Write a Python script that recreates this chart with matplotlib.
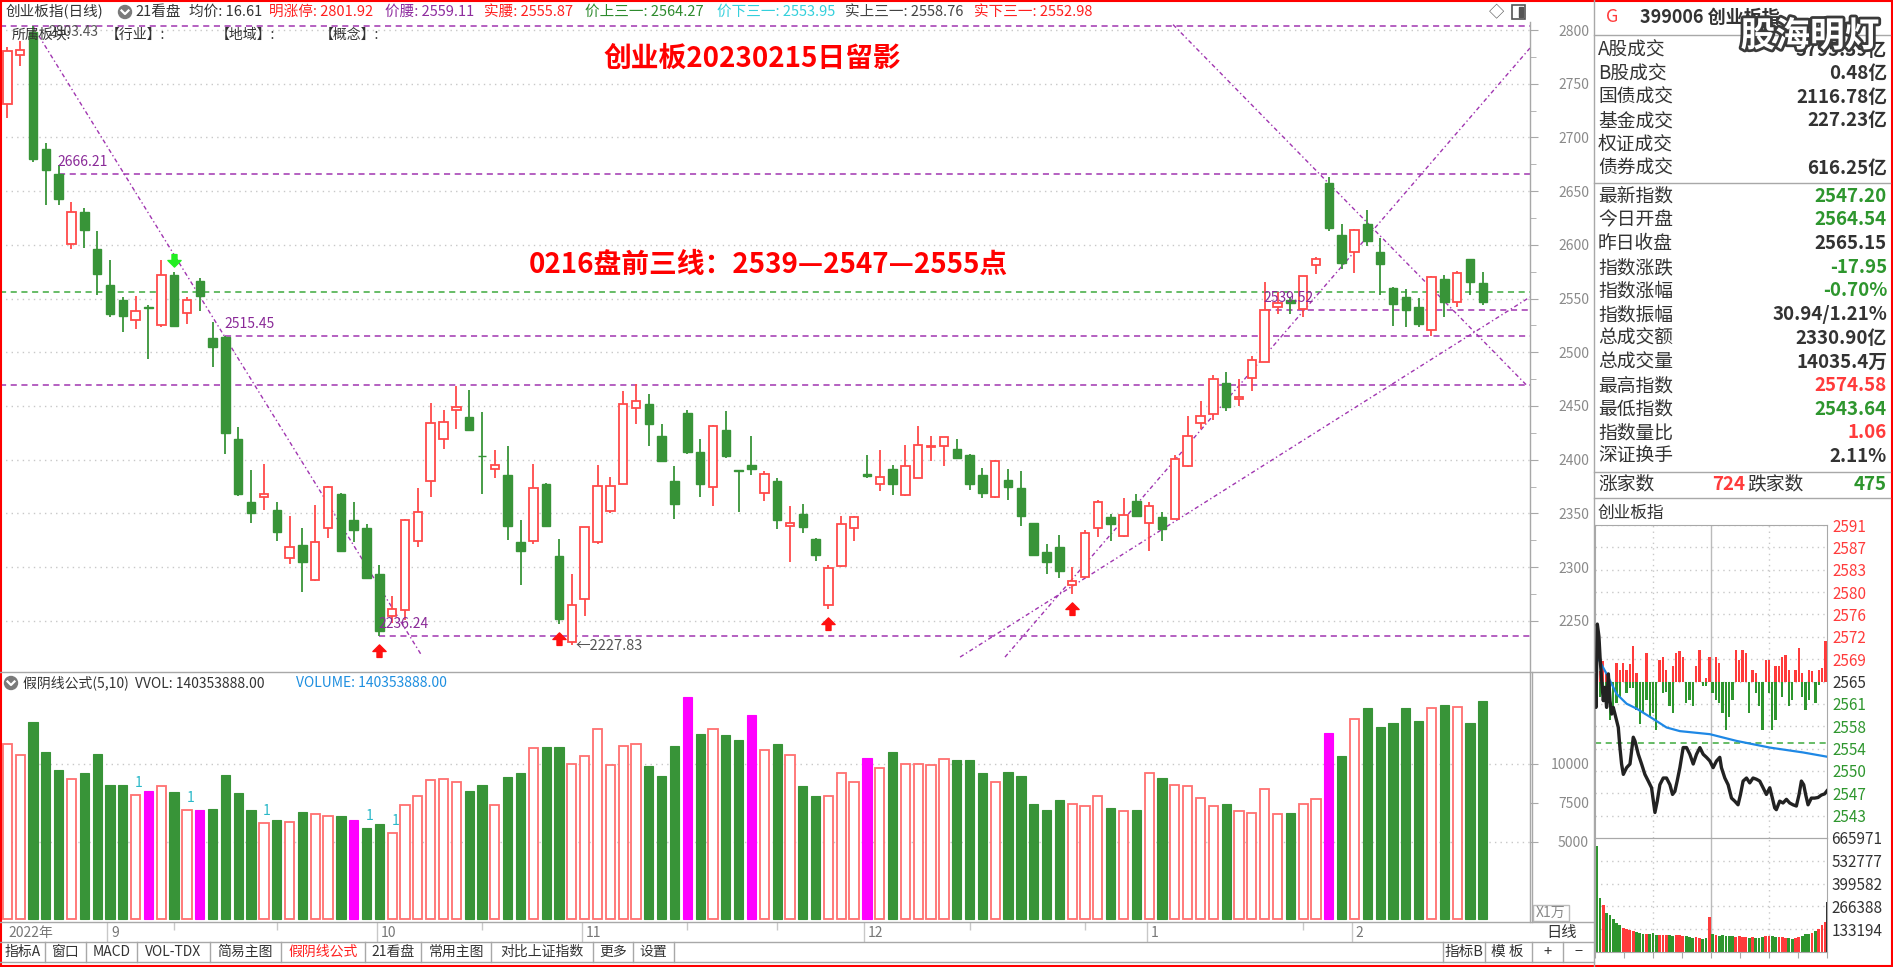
import numpy as np
import matplotlib.pyplot as plt
from matplotlib.patches import Rectangle, Circle
from matplotlib.path import Path
import matplotlib.patheffects as pe

plt.rcParams['font.family'] = ['Noto Sans CJK SC', 'DejaVu Sans']
plt.rcParams['axes.unicode_minus'] = False

# ---------------- daily K-line data (2022-08 .. 2023-02-15) ----------------
opens = [2731.4, 2776.3, 2798.0, 2689.3, 2666.2, 2600.7, 2630.4, 2596.3, 2562.3, 2548.2,
         2529.9, 2542.2, 2525.6, 2571.5, 2536.4, 2566.6, 2513.7, 2514.5, 2419.1, 2360.2,
         2365.6, 2353.2, 2308.8, 2320.7, 2288.3, 2335.9, 2367.8, 2344.0, 2336.4, 2293.7,
         2254.3, 2260.2, 2324.5, 2380.2, 2419.6, 2446.1, 2439.6, 2403.8, 2391.0, 2386.1,
         2323.4, 2324.5, 2377.5, 2309.9, 2229.9, 2270.5, 2323.4, 2352.1, 2377.5, 2447.7,
         2452.0, 2422.3, 2380.2, 2443.4, 2407.2, 2374.8, 2427.7, 2389.6, 2394.8, 2369.4,
         2380.2, 2338.6, 2349.4, 2326.1, 2265.1, 2300.7, 2335.9, 2386.7, 2377.5, 2391.0,
         2366.7, 2382.9, 2411.5, 2412.6, 2409.9, 2404.5, 2385.6, 2365.1, 2381.3, 2373.2,
         2340.7, 2313.7, 2319.1, 2282.9, 2291.0, 2335.9, 2346.7, 2328.8, 2361.3, 2340.7,
         2346.7, 2345.1, 2393.7, 2434.2, 2442.3, 2471.0, 2456.4, 2476.4, 2491.0, 2542.3,
         2548.8, 2540.7, 2581.2, 2657.4, 2608.8, 2593.6, 2619.6, 2593.6, 2560.1, 2551.5,
         2542.3, 2520.7, 2568.2, 2546.6, 2586.6, 2564.54]
highs = [2783.9, 2789.3, 2803.43, 2695.2, 2674.7, 2639.6, 2634.2, 2612.5, 2585.5, 2551.5,
         2552.6, 2543.9, 2585.5, 2574.7, 2551.5, 2569.3, 2527.7, 2515.45, 2430.4, 2389.9,
         2396.4, 2360.2, 2347.8, 2335.9, 2357.5, 2375.5, 2368.5, 2360.2, 2339.7, 2301.8,
         2273.2, 2345.0, 2373.2, 2453.1, 2446.6, 2468.3, 2465.0, 2443.9, 2408.8, 2412.6,
         2344.0, 2396.4, 2378.2, 2326.1, 2293.7, 2337.5, 2394.8, 2384.0, 2463.9, 2470.4,
         2461.2, 2433.1, 2393.7, 2446.6, 2419.6, 2432.0, 2445.0, 2390.2, 2421.8, 2389.4,
         2382.9, 2357.0, 2358.6, 2327.2, 2301.8, 2347.8, 2347.8, 2404.5, 2408.8, 2394.8,
         2413.7, 2431.5, 2421.8, 2421.0, 2419.1, 2405.0, 2392.6, 2399.5, 2391.0, 2389.4,
         2341.0, 2321.8, 2329.9, 2300.2, 2334.3, 2362.4, 2349.4, 2364.0, 2368.3, 2360.2,
         2351.5, 2404.5, 2440.7, 2454.8, 2479.1, 2481.2, 2474.8, 2496.4, 2565.5, 2555.8,
         2551.5, 2571.0, 2588.2, 2662.8, 2619.6, 2614.5, 2632.6, 2606.1, 2561.2, 2558.5,
         2550.4, 2571.0, 2572.0, 2575.8, 2587.0, 2574.58]
lows = [2717.9, 2766.6, 2676.9, 2636.9, 2636.9, 2596.3, 2597.4, 2553.1, 2533.1, 2519.1,
        2521.8, 2493.7, 2523.4, 2523.4, 2526.1, 2538.5, 2486.6, 2405.6, 2366.5, 2340.7,
        2353.2, 2324.5, 2302.9, 2276.4, 2287.2, 2327.2, 2314.5, 2323.4, 2288.5, 2236.24,
        2247.8, 2250.5, 2319.1, 2365.6, 2409.9, 2428.8, 2426.5, 2367.8, 2382.9, 2325.1,
        2282.9, 2321.8, 2338.0, 2246.7, 2227.83, 2254.3, 2321.8, 2350.5, 2377.0, 2433.1,
        2412.6, 2398.5, 2345.1, 2405.6, 2365.1, 2357.0, 2401.8, 2351.5, 2385.6, 2361.3,
        2335.3, 2304.5, 2331.6, 2306.1, 2261.3, 2300.0, 2324.5, 2382.9, 2371.0, 2366.7,
        2366.0, 2382.5, 2399.1, 2393.7, 2401.5, 2372.1, 2364.0, 2364.0, 2362.4, 2338.6,
        2309.9, 2293.7, 2289.9, 2274.8, 2290.5, 2327.8, 2324.5, 2328.0, 2347.0, 2315.3,
        2324.5, 2344.5, 2393.0, 2428.8, 2436.9, 2445.0, 2450.4, 2463.9, 2490.5, 2535.8,
        2535.8, 2533.1, 2573.1, 2612.6, 2577.4, 2573.6, 2599.0, 2553.1, 2524.5, 2523.4,
        2523.4, 2515.3, 2533.1, 2542.3, 2553.1, 2543.64]
closes = [2780.1, 2781.2, 2680.0, 2669.3, 2642.3, 2630.4, 2613.6, 2573.1, 2535.3, 2534.2,
          2538.5, 2541.5, 2571.5, 2524.5, 2548.2, 2552.6, 2504.5, 2425.0, 2368.3, 2350.5,
          2367.8, 2332.6, 2319.1, 2304.5, 2323.4, 2374.8, 2315.3, 2334.3, 2289.4, 2240.5,
          2261.3, 2343.4, 2351.5, 2434.2, 2435.3, 2448.8, 2427.2, 2403.0, 2395.3, 2338.6,
          2315.3, 2373.2, 2338.6, 2251.6, 2265.1, 2337.0, 2375.9, 2375.9, 2451.5, 2454.8,
          2433.1, 2399.1, 2358.6, 2407.2, 2377.5, 2431.5, 2403.4, 2389.2, 2391.0, 2386.7,
          2344.0, 2340.7, 2337.0, 2311.0, 2299.1, 2339.7, 2346.2, 2384.5, 2384.0, 2377.5,
          2393.7, 2413.7, 2412.6, 2420.7, 2401.8, 2377.5, 2369.4, 2399.1, 2374.8, 2347.8,
          2311.6, 2304.5, 2296.4, 2286.7, 2331.6, 2360.2, 2339.7, 2348.8, 2347.8, 2357.0,
          2335.3, 2400.2, 2422.3, 2440.7, 2474.8, 2448.8, 2458.5, 2492.6, 2539.52, 2546.1,
          2545.8, 2570.9, 2586.6, 2615.3, 2582.8, 2614.2, 2603.4, 2581.7, 2545.0, 2539.6,
          2526.1, 2570.4, 2546.6, 2573.6, 2565.15, 2547.20]
volumes = [11264, 10555, 12682, 10741, 9620, 9060, 9434, 10629, 8649, 8649,
           8014, 8276, 8575, 8201, 7043, 7043, 7080, 9322, 8164, 7043,
           6222, 6409, 6297, 6894, 6782, 6633, 6633, 6409, 5886, 6148,
           5588, 7341, 7939, 8948, 9022, 8873, 8276, 8649, 7341, 9134,
           9434, 11002, 11077, 11077, 10031, 10517, 12272, 9956, 11152, 11301,
           9882, 9247, 11189, 14289, 11936, 12272, 11898, 11562, 13168, 10890,
           11264, 10555, 8575, 7939, 7939, 9434, 8873, 10405, 9770, 10741,
           9993, 10031, 9956, 10331, 10256, 10256, 9434, 8836, 9508, 9210,
           7454, 7043, 7715, 7454, 7267, 7939, 7192, 6968, 7043, 9397,
           9098, 8649, 8575, 7827, 7267, 7454, 7006, 6857, 8388, 6782,
           6819, 7454, 7752, 12010, 10517, 12869, 13616, 12383, 12645, 13579,
           12757, 13616, 13803, 13691, 12607, 14035]
fake_yin = [11, 15, 27, 53, 58, 67, 103]          # 假阴线
vol_one_marks = [10, 14, 20, 28, 30]
buy_arrows = [29, 43, 64, 83]
sell_arrows = [13]

month_labels = ['2022年', '9', '10', '11', '12', '1', '2']
month_start = [0, 8, 29, 45, 67, 89, 105]
minor_date_ticks = [13, 21, 37, 53, 60, 75, 84, 101]

# horizontal support / resistance lines: (level, first bar, label)
h_lines = [(2803.43, None, None), (2666.21, 4, '2666.21'), (2515.45, 17, '2515.45'),
           (2469.3, None, None), (2236.24, 29, '2236.24'), (2539.52, 98, '2539.52')]
green_line = 2555.87
trend_lines = [((2.0, 2803.43), (32.3, 2217.6)),
               ((90.86, 2805.0), (118.45, 2468.9)),
               ((77.76, 2216.2), (118.68, 2783.2)),
               ((74.26, 2216.2), (118.68, 2551.4))]

# ---------------- intraday (2023-02-15) ----------------
prev_close = 2565.15
tick_min = [0, 1, 2.4, 4.1, 5.2, 6.9, 8.6, 10.3, 12, 13.8, 15.5, 17.2, 18.9, 22.4, 24.1,
            25.8, 27.5, 29.3, 32.7, 36.2, 39.6, 41.3, 44.8, 48.2, 51.6, 55.1, 58.5, 62,
            64.4, 67.1, 70.6, 74, 77.5, 80.2, 82.6, 85, 87.8, 91.2, 94.7, 98.1, 101.6,
            105, 108.5, 111.9, 115.3, 118.8, 122.2, 125.7, 129.1, 130.8, 134.3, 137.7,
            141.2, 144.6, 148, 150.5, 153.2, 156.7, 160.1, 163.5, 167, 170.4, 173.9,
            177.3, 180.8, 183.5, 185.9, 187.6, 191.1, 194.5, 198, 201.4, 204.9, 208.3,
            211.1, 213.5, 215.9, 217.9, 220.4, 223.8, 227.2, 230.7, 234.1, 237.6, 240]
tick_price = [2564.5, 2560.9, 2574.58, 2572.5, 2569.2, 2565.3, 2562.0, 2564.2, 2560.9,
              2566.4, 2562.0, 2559.8, 2560.9, 2558.7, 2557.6, 2554.3, 2551.6, 2549.9,
              2551.0, 2551.6, 2556.0, 2555.4, 2553.2, 2551.6, 2549.9, 2548.8, 2547.7,
              2543.64, 2545.5, 2548.2, 2549.3, 2549.3, 2548.2, 2546.6, 2547.1, 2548.8,
              2551.0, 2554.3, 2554.3, 2553.2, 2551.6, 2553.2, 2554.3, 2553.2, 2552.7,
              2552.1, 2551.0, 2552.1, 2552.7, 2551.0, 2549.3, 2548.2, 2546.0, 2545.5,
              2544.9, 2546.6, 2548.8, 2549.3, 2548.5, 2549.3, 2549.1, 2548.8, 2547.7,
              2546.6, 2547.7, 2546.0, 2544.4, 2544.1, 2545.5, 2545.2, 2545.8, 2545.2,
              2544.9, 2544.7, 2546.6, 2548.8, 2548.2, 2546.6, 2544.9, 2546.0, 2546.0,
              2546.1, 2546.5, 2546.7, 2547.2]
avg_min = [2.4, 12, 22.4, 32.7, 43, 60.3, 74, 87.8, 118.8, 146.3, 180.8, 215.2, 240]
avg_price = [2569.2, 2566.4, 2563.1, 2561.5, 2560.7, 2559.0, 2557.6, 2557.0, 2556.5,
             2555.4, 2554.3, 2553.5, 2552.8]
# advance / decline bars around the previous close, 70 slots
bar_up = [0, 1.7, 3.3, 1.4, 0, 0, 3.0, 1.9, 3.0, 1.9, 2.8, 5.8, 1.4, 0, 0, 4.7, 0, 0, 0, 3.6,
          4.1, 1.9, 0, 2.5, 4.7, 5.0, 4.1, 0, 0, 0, 2.5, 5.2, 0, 0.6, 4.1, 0, 4.1, 3.0, 0, 0,
          0, 0, 5.2, 3.6, 5.2, 4.7, 0, 1.9, 1.4, 0, 0, 3.6, 3.6, 0, 2.5, 2.5, 4.1, 4.4, 1.9, 0,
          1.9, 5.5, 1.4, 0, 1.9, 1.7, 0, 1.9, 2.2, 6.6]
bar_dn = [4.1, 2.5, 1.9, 3.0, 6.3, 5.2, 3.6, 2.5, 0, 1.9, 1.1, 1.1, 4.7, 6.9, 5.2, 3.0, 5.8,
          5.2, 8.0, 0, 1.9, 1.7, 4.1, 5.2, 0, 0, 0, 3.6, 3.0, 4.1, 0, 0, 0.8, 0.8, 0, 1.9, 3.0,
          3.6, 5.2, 8.0, 5.8, 3.0, 0, 0, 0, 0, 5.2, 0, 1.9, 4.1, 8.0, 0, 1.9, 8.0, 6.3, 0, 2.5,
          0, 4.1, 3.0, 0, 0, 2.5, 4.7, 3.0, 0, 3.6, 0.6, 0, 0]
intra_vol = [617000, 313400, 274200, 225300, 215500, 190000, 166500, 156700, 143000, 137100,
             127300, 123400, 117500, 111600, 107700, 107700, 103800, 111600, 101900, 97900,
             97900, 101900, 97900, 96000, 101900, 97900, 96000, 92100, 88100, 84200,
             88100, 84200, 78300, 80300, 205700, 107700, 97900, 96000, 97900, 96000,
             92100, 96000, 88100, 92100, 88100, 90100, 84200, 88100, 84200, 82300,
             88100, 92100, 96000, 94000, 88100, 88100, 86200, 84200, 80300, 78300,
             80300, 88100, 96000, 103800, 107700, 113600, 123400, 137100, 156700, 176300]
last_min_vol = 293800
intra_labels = ['2591', '2587', '2583', '2580', '2576', '2572', '2569', '2565',
                '2561', '2558', '2554', '2550', '2547', '2543']
intra_vol_ticks = [133194, 266388, 399582, 532777, 665971]

# ---------------- text panels ----------------
header_items = [('创业板指(日线)', 6, '#333333'), ('21看盘', 135, '#333333'),
                ('均价: 16.61', 189, '#333333'), ('明涨停: 2801.92', 269, '#FF2020'),
                ('价腰: 2559.11', 385, '#8E2C9E'), ('实腰: 2555.87', 484, '#FF2020'),
                ('价上三一: 2564.27', 585, '#2E8B2E'), ('价下三一: 2553.95', 717, '#34D0DC'),
                ('实上三一: 2558.76', 845, '#444444'), ('实下三一: 2552.98', 974, '#FF2020')]
info_top = [('A股成交', '5795.39亿', '#333333'), ('B股成交', '0.48亿', '#333333'),
            ('国债成交', '2116.78亿', '#333333'), ('基金成交', '227.23亿', '#333333'),
            ('权证成交', '', '#333333'), ('债券成交', '616.25亿', '#333333')]
info_mid = [('最新指数', '2547.20', '#2E962E'), ('今日开盘', '2564.54', '#2E962E'),
            ('昨日收盘', '2565.15', '#333333'), ('指数涨跌', '-17.95', '#2E962E'),
            ('指数涨幅', '-0.70%', '#2E962E'), ('指数振幅', '30.94/1.21%', '#333333'),
            ('总成交额', '2330.90亿', '#333333'), ('总成交量', '14035.4万', '#333333'),
            ('最高指数', '2574.58', '#FF3B3B'), ('最低指数', '2543.64', '#2E962E'),
            ('指数量比', '1.06', '#FF3B3B'), ('深证换手', '2.11%', '#333333')]
tabs = ['指标A', '窗口', 'MACD', 'VOL-TDX', '简易主图', '假阴线公式', '21看盘',
        '常用主图', '对比上证指数', '更多', '设置']
tab_edges = [0, 45, 86, 137, 210, 281, 365, 421, 491, 593, 633, 674]

# ---------------- styling ----------------
RED = '#FF4A4A'
RED_VOL = '#FF7070'
GREEN = '#389438'
MAGENTA = '#FF00FF'
PURPLE = '#A035B0'
GRID = '#C8C8C8'
AXIS_TXT = '#8A8A8A'
DARK = '#333333'
FRAME = '#A8A8A8'

W, H = 1893, 967
fig = plt.figure(figsize=(W / 100, H / 100), dpi=100)
fig.patch.set_facecolor('white')


def px_axes(x0, y0, x1, y1, **kw):
    return fig.add_axes([x0 / W, 1 - y1 / H, (x1 - x0) / W, (y1 - y0) / H], **kw)


def clean(a):
    a.set_facecolor('none')
    for s in a.spines.values():
        s.set_visible(False)


o = np.array(opens); h = np.array(highs); l = np.array(lows); c = np.array(closes)
idx = np.arange(len(o))
rising = c >= o
XLIM = (-0.57, 118.68)

# ---------------- main candle chart ----------------
ax = px_axes(0, 22, 1530, 672)
clean(ax)
ax.set_xlim(*XLIM)
ax.set_ylim(2202.3, 2807.45)
ax.set_xticks([])
ax.yaxis.tick_right()
ax.set_yticks(np.arange(2250, 2801, 50))
ax.set_yticks(np.arange(2275, 2801, 50), minor=True)
ax.tick_params(axis='y', which='major', direction='out', length=6, color=FRAME,
               pad=36.5, labelsize=10, labelcolor=AXIS_TXT)
ax.tick_params(axis='y', which='minor', direction='out', length=4, color=FRAME)
for t in ax.get_yticklabels():
    t.set_ha('right')
ax.yaxis.grid(True, which='major', color=GRID, linestyle=(0, (1, 3)), lw=1)
ax.set_axisbelow(True)

for level, start, label in h_lines:
    x0 = XLIM[0] if start is None else start
    ax.hlines(level, x0, XLIM[1], colors=PURPLE, linestyles=(0, (4, 3)), lw=1.1, zorder=2)
    if label:
        ax.text(start - 0.1, level + 11, label, color='#8A2A98', fontsize=10,
                ha='left', va='center', zorder=6)
ax.hlines(green_line, XLIM[0], XLIM[1], colors='#3DAA3D', linestyles=(0, (4, 3)), lw=1.1, zorder=2)
for (xa, ya), (xb, yb) in trend_lines:
    ax.plot([xa, xb], [ya, yb], color=PURPLE, lw=1, dashes=(3, 2, 1, 2), zorder=2)

wick_col = [RED if r else GREEN for r in rising]
ax.vlines(idx, l, h, colors=wick_col, lw=1.3, zorder=3)
body_bottom = np.minimum(o, c)
body_h = np.maximum(np.abs(c - o), 0.8)
ax.bar(idx[rising], body_h[rising], bottom=body_bottom[rising], width=0.66,
       facecolor='white', edgecolor=RED, lw=1.3, zorder=4)
ax.bar(idx[~rising], body_h[~rising], bottom=body_bottom[~rising], width=0.66,
       facecolor=GREEN, edgecolor=GREEN, lw=1, zorder=4)

up_arrow = Path([(0, 1), (1, 0), (0.38, 0), (0.38, -0.9), (-0.38, -0.9), (-0.38, 0),
                 (-1, 0), (0, 1)], closed=True)
dn_arrow = Path([(0, -1), (1, 0), (0.38, 0), (0.38, 0.9), (-0.38, 0.9), (-0.38, 0),
                 (-1, 0), (0, -1)], closed=True)
ax.scatter(buy_arrows, l[buy_arrows] - 14, marker=up_arrow, s=90, color='#FF1010', zorder=6)
ax.scatter(sell_arrows, h[sell_arrows] + 11, marker=dn_arrow, s=90, color='#22EE22', zorder=6)
ax.text(3.2, 2798.5, '2803.43', color='#555555', fontsize=10, ha='left', va='center', zorder=6)
ax.text(44.3, 2226.5, '←2227.83', color='#555555', fontsize=10.5, ha='left', va='center', zorder=6)

ax.text(0.492, 0.943, '创业板20230215日留影', transform=ax.transAxes, color='#FF0000',
        fontsize=20, fontweight='bold', ha='center', va='center', zorder=7)
ax.text(0.502, 0.626, '0216盘前三线：2539—2547—2555点', transform=ax.transAxes,
        color='#FF0000', fontsize=20, fontweight='bold', ha='center', va='center', zorder=7)

# ---------------- volume panel ----------------
av = px_axes(0, 672, 1530, 922)
clean(av)
av.set_xlim(*XLIM)
av.set_ylim(-167, 15920)
av.set_xticks([])
av.yaxis.tick_right()
av.set_yticks([5000, 7500, 10000])
av.tick_params(axis='y', direction='out', length=6, color=FRAME, pad=36.5,
               labelsize=10, labelcolor=AXIS_TXT)
for t in av.get_yticklabels():
    t.set_ha('right')
for g in (5000, 10000):
    av.axhline(g, color=GRID, linestyle=(0, (1, 3)), lw=1, zorder=1)
vol = np.array(volumes)
magenta = np.zeros(len(vol), bool)
magenta[fake_yin] = True
up_v = rising & ~magenta
dn_v = ~rising & ~magenta
av.bar(idx[up_v], vol[up_v], width=0.72, facecolor='white', edgecolor=RED_VOL, lw=1.3, zorder=3)
av.bar(idx[dn_v], vol[dn_v], width=0.72, facecolor=GREEN, edgecolor=GREEN, lw=0.8, zorder=3)
av.bar(idx[magenta], vol[magenta], width=0.72, facecolor=MAGENTA, edgecolor=MAGENTA, lw=0.8, zorder=3)
for i in vol_one_marks:
    av.text(i + 0.25, vol[i] + 760, '1', color='#2AB8C8', fontsize=10, ha='center', va='center')

# ---------------- date strip ----------------
ad = px_axes(0, 922, 1530, 942)
clean(ad)
ad.set_xlim(*XLIM)
ad.set_ylim(0, 1)
ad.set_xticks([]); ad.set_yticks([])
for lab, pos in zip(month_labels, month_start):
    if pos > 0:
        ad.vlines(pos - 0.2, 0, 1, colors='#C8C8C8', lw=1)
    ad.text(pos + 0.1, 0.45, lab, color='#777777', fontsize=10, ha='left', va='center')
ad.vlines(minor_date_ticks, 0.6, 1, colors='#C8C8C8', lw=1)

# ---------------- intraday price ----------------
ai = px_axes(1595, 525, 1827, 838)
ai.set_facecolor('none')
for s in ai.spines.values():
    s.set_color(FRAME)
half = 25.7
ai.set_xlim(0, 240)
ai.set_ylim(prev_close - half, prev_close + half)
tick_vals = prev_close + np.arange(7, -7, -1) * half / 7
ai.set_xticks([])
ai.yaxis.tick_right()
ai.set_yticks(tick_vals)
ai.set_yticklabels(intra_labels)
ai.tick_params(axis='y', length=0, pad=4, labelsize=11)
for lab, v in zip(ai.get_yticklabels(), tick_vals):
    lab.set_color('#FF3B3B' if v > prev_close + 0.5 else ('#2E962E' if v < prev_close - 0.5 else DARK))
for v in tick_vals:
    ai.axhline(v, color=GRID, linestyle=(0, (1, 3)), lw=1, zorder=1)
for m in (60, 180):
    ai.axvline(m, color=GRID, linestyle=(0, (1, 3)), lw=1, zorder=1)
ai.axvline(120, color='#BBBBBB', lw=1, zorder=1)
slot = 240 / len(bar_up)
slot_x = (np.arange(len(bar_up)) + 0.5) * slot
ai.bar(slot_x, bar_up, bottom=prev_close, width=slot * 0.7, color='#FF3B3B', zorder=2)
ai.bar(slot_x, -np.array(bar_dn), bottom=prev_close, width=slot * 0.7, color='#2E962E', zorder=2)
ai.axhline(2555.0, color='#3DAA3D', linestyle=(0, (4, 3)), lw=1.1, zorder=2)
ai.plot(avg_min, avg_price, color='#1E88E5', lw=1.6, zorder=3)
ai.plot(tick_min, tick_price, color='#222222', lw=2.4, zorder=4)

# ---------------- intraday volume ----------------
aiv = px_axes(1595, 838, 1827, 952)
aiv.set_facecolor('none')
for s in aiv.spines.values():
    s.set_color(FRAME)
aiv.set_xlim(0, 240)
aiv.set_ylim(0, intra_vol_ticks[-1])
aiv.yaxis.tick_right()
aiv.set_yticks(intra_vol_ticks)
aiv.set_yticklabels([str(v) for v in intra_vol_ticks])
aiv.tick_params(axis='y', length=0, pad=3, labelsize=11, labelcolor=DARK)
aiv.set_xticks(np.arange(0, 241, 30))
aiv.tick_params(axis='x', direction='out', length=4, color=FRAME, labelbottom=False)
for v in intra_vol_ticks[:-1]:
    aiv.axhline(v, color=GRID, linestyle=(0, (1, 3)), lw=1, zorder=1)
for m in (60, 180):
    aiv.axvline(m, color=GRID, linestyle=(0, (1, 3)), lw=1, zorder=1)
aiv.axvline(120, color='#BBBBBB', lw=1, zorder=1)
vcols = ['#FF3B3B' if u >= d else '#2E962E' for u, d in zip(bar_up, bar_dn)]
aiv.bar(slot_x, intra_vol, width=slot * 0.85, color=vcols, zorder=2)
aiv.bar([239.5], [last_min_vol], width=1.2, color='#333333', zorder=3)

# ---------------- chrome / text overlay ----------------
ov = fig.add_axes([0, 0, 1, 1], zorder=20)
ov.set_xlim(0, W)
ov.set_ylim(H, 0)
ov.axis('off')
ov.patch.set_alpha(0)

for txt, x, col in header_items:
    ov.text(x, 12, txt, color=col, fontsize=10.5, ha='left', va='center')
ov.add_patch(Circle((125, 12), 6.5, color='#7A7A7A'))
ov.plot([121.5, 125, 128.5], [10.5, 14, 10.5], color='white', lw=1.6)
ov.text(1496, 12, '◇', color='#555555', fontsize=11, ha='center', va='center')
ov.add_patch(Rectangle((1512, 5), 13, 14, fill=False, ec='#555555', lw=1.2))
ov.add_patch(Rectangle((1519, 7), 4, 10, color='#555555'))

ov.text(12, 35, '所属板块:', color=DARK, fontsize=10, ha='left', va='center')
for txt, x in (('【行业】:', 106), ('【地域】:', 216), ('【概念】:', 320)):
    ov.text(x, 35, txt, color=DARK, fontsize=10, ha='left', va='center')

ov.add_patch(Circle((11, 683), 6.5, color='#7A7A7A'))
ov.plot([7.5, 11, 14.5], [681.5, 685, 681.5], color='white', lw=1.6)
ov.text(23, 683, '假阴线公式(5,10)  VVOL: 140353888.00', color=DARK, fontsize=10,
        ha='left', va='center')
ov.text(296, 683, 'VOLUME: 140353888.00', color='#1E8FE0', fontsize=10, ha='left', va='center')

# frame lines
seg = [((1530, 22), (1530, 922)), ((1594, 0), (1594, 967)), ((0, 672), (1594, 672)),
       ((0, 922), (1594, 922)), ((0, 942), (1594, 942)), ((0, 962), (1594, 962)),
       ((1594, 35), (1890, 35)), ((1594, 183), (1890, 183)), ((1594, 472), (1890, 472)),
       ((1594, 498), (1890, 498)), ((1532, 672), (1532, 922))]
for (xa, ya), (xb, yb) in seg:
    ov.plot([xa, xb], [ya, yb], color=FRAME, lw=1)

for k, t in enumerate(tabs):
    x0, x1 = tab_edges[k], tab_edges[k + 1]
    ov.text((x0 + x1) / 2, 952, t, color='#FF2020' if t == '假阴线公式' else DARK,
            fontsize=10, ha='center', va='center')
    ov.plot([x1, x1], [942, 962], color=FRAME, lw=1)
for t, x0, x1 in (('指标B', 1443, 1485), ('模 板', 1485, 1530), ('+', 1532, 1563), ('−', 1563, 1594)):
    ov.text((x0 + x1) / 2, 952, t, color=DARK, fontsize=10.5, ha='center', va='center')
    ov.plot([x0, x0], [942, 962], color=FRAME, lw=1)
ov.text(1562, 932, '日线', color=DARK, fontsize=11, ha='center', va='center')
ov.add_patch(Rectangle((1533, 905), 36, 16, fill=False, ec='#BBBBBB', lw=1))
ov.text(1551, 913, 'X1万', color='#888888', fontsize=10, ha='center', va='center')

# right info panel
ov.text(1606, 17, 'G', color='#FF3B3B', fontsize=13, ha='left', va='center')
ov.text(1640, 17, '399006 创业板指', color=DARK, fontsize=13, fontweight='bold',
        ha='left', va='center')
for k, (lab, val, col) in enumerate(info_top):
    y = 50 + k * 23.6
    ov.text(1598, y, lab, color=DARK, fontsize=13.5, ha='left', va='center')
    ov.text(1887, y, val, color=col, fontsize=13.5, fontweight='bold', ha='right', va='center')
for k, (lab, val, col) in enumerate(info_mid):
    y = 196 + k * 23.7
    ov.text(1598, y, lab, color=DARK, fontsize=13.5, ha='left', va='center')
    ov.text(1887, y, val, color=col, fontsize=13.5, fontweight='bold', ha='right', va='center')
ov.text(1598, 484, '涨家数', color=DARK, fontsize=13.5, ha='left', va='center')
ov.text(1712, 484, '724', color='#FF3B3B', fontsize=13.5, fontweight='bold', ha='left', va='center')
ov.text(1747, 484, '跌家数', color=DARK, fontsize=13.5, ha='left', va='center')
ov.text(1887, 484, '475', color='#2E962E', fontsize=13.5, fontweight='bold', ha='right', va='center')
ov.text(1598, 513, '创业板指', color=DARK, fontsize=12, ha='left', va='center')

ov.text(1810, 36, '股海明灯', color='white', fontsize=25, fontweight='bold', ha='center',
        va='center', path_effects=[pe.withStroke(linewidth=4, foreground='#3A3A3A')])

ov.add_patch(Rectangle((0.75, 0.75), W - 1.5, H - 1.5, fill=False, ec='#FF0000', lw=1.5))

fig.savefig('out.png', dpi=100, facecolor='white')
